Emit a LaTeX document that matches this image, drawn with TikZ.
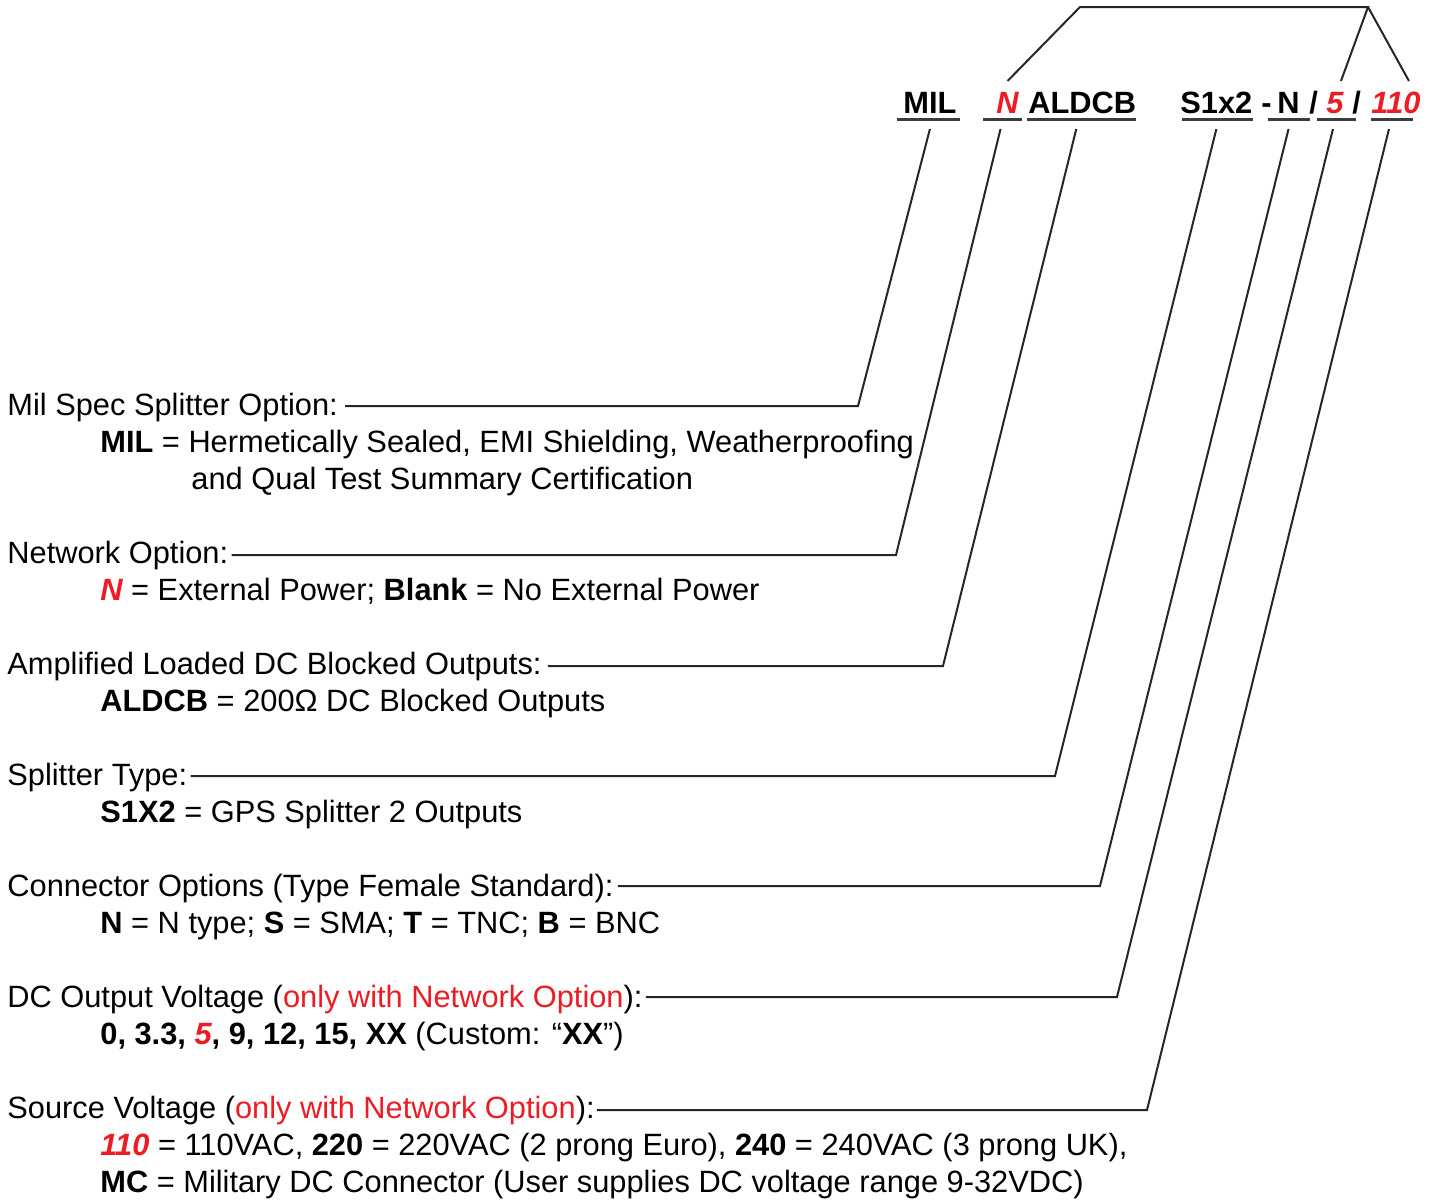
\documentclass[tikz,border=0pt]{standalone}
\usepackage{fontspec}
\setmainfont{Liberation Sans}
\definecolor{optred}{RGB}{237,28,36}
\definecolor{uline}{RGB}{60,60,60}
\begin{document}
\begin{tikzpicture}[x=0.5pt,y=-0.5pt,
  every node/.style={font=\fontsize{15.4}{18.5}\selectfont},
  code/.style={font=\fontsize{15.4}{18.5}\selectfont\bfseries, inner sep=0pt, anchor=base west},
  redc/.style={code, text=optred, font=\fontsize{15.4}{18.5}\selectfont\bfseries\itshape},
  lbl/.style={anchor=base west, inner sep=0pt},
  leader/.style={line width=1pt, black!85},
  ul/.style={line width=1.5pt, uline}]
\useasboundingbox (0,0) rectangle (1434,1200);

% code row
\node[code] (cMIL) at (903,113) {MIL};
\node[redc] (cN) at (996,113) {N};
\node[code] (cALDCB) at (1028,113) {ALDCB};
\node[code] (cS) at (1180,113) {S1x2};
\node[code] (cDash) at (1261,113) {-};
\node[code] (cN2) at (1277,113) {N};
\node[code] (cSl1) at (1309,113) {/};
\node[redc] (c5) at (1326,113) {5};
\node[code] (cSl2) at (1352,113) {/};
\node[redc] (c110) at (1371,113) {110};
\foreach \n/\a/\b in {cMIL/-3/1.5, cN/-6.5/1.5, cALDCB/-0.5/-0.5, cS/1/0, cN2/-4.5/5, c5/-4.5/6, c110/0/-4}
  \draw[ul] ([xshift=\a pt,yshift=-3pt]\n.base west) -- ([xshift=\b pt,yshift=-3pt]\n.base east);

% top bracket
\coordinate (t1) at (1080,7);
\coordinate (t2) at (1368,7);
\draw[leader] ([yshift=16pt]cN.base) -- (t1) -- (t2) -- ([xshift=3pt,yshift=16pt]c5.base);
\draw[leader] (t2) -- ([xshift=6.5pt,yshift=16pt]c110.base);

% labels
\node[lbl] (l1) at (7,415) {Mil Spec Splitter Option:};
\node[lbl] (l1a) at (100,452) {\textbf{MIL} = Hermetically Sealed, EMI Shielding, Weatherproofing};
\node[lbl] (l1b) at (191,489) {and Qual Test Summary Certification};

\node[lbl] (l2) at (7,563) {Network Option:};
\node[lbl] (l2a) at (100,600) {{\color{optred}\bfseries\itshape N} = External Power; \textbf{Blank} = No External Power};

\node[lbl] (l3) at (7,674) {Amplified Loaded DC Blocked Outputs:};
\node[lbl] (l3a) at (100,711) {\textbf{ALDCB} = 200Ω DC Blocked Outputs};

\node[lbl] (l4) at (7,785) {Splitter Type:};
\node[lbl] (l4a) at (100,822) {\textbf{S1X2} = GPS Splitter 2 Outputs};

\node[lbl] (l5) at (7,896) {Connector Options (Type Female Standard):};
\node[lbl] (l5a) at (100,933) {\textbf{N} = N type; \textbf{S} = SMA; \textbf{T} = TNC; \textbf{B} = BNC};

\node[lbl] (l6) at (7,1007) {DC Output Voltage ({\color{optred}only with Network Option}):};
\node[lbl] (l6a) at (100,1044) {\textbf{0, 3.3, {\color{optred}\itshape 5}, 9, 12, 15, XX} (Custom: “\textbf{XX}”)};

\node[lbl] (l7) at (7,1118) {Source Voltage ({\color{optred}only with Network Option}):};
\node[lbl] (l7a) at (100,1155) {{\color{optred}\bfseries\itshape 110} = 110VAC, \textbf{220} = 220VAC (2 prong Euro), \textbf{240} = 240VAC (3 prong UK),};
\node[lbl] (l7b) at (100,1192) {\textbf{MC} = Military DC Connector (User supplies DC voltage range 9-32VDC)};

% leader knees
\coordinate (k1) at (858,406);
\coordinate (k2) at (896,555);
\coordinate (k3) at (943,666);
\coordinate (k4) at (1055,776);
\coordinate (k5) at (1100,886);
\coordinate (k6) at (1117,997);
\coordinate (k7) at (1147,1110);

\draw[leader] ([yshift=-8pt]cMIL.base) -- (k1) -- ([xshift=3.5pt]l1.east |- k1);
\draw[leader] ([xshift=-3.5pt,yshift=-8pt]cN.base) -- (k2) -- ([xshift=1.5pt]l2.east |- k2);
\draw[leader] ([xshift=-3pt,yshift=-8pt]cALDCB.base) -- (k3) -- ([xshift=3pt]l3.east |- k3);
\draw[leader] ([yshift=-8pt]cS.base) -- (k4) -- ([xshift=1.5pt]l4.east |- k4);
\draw[leader] ([yshift=-8pt]cN2.base) -- (k5) -- ([xshift=2pt]l5.east |- k5);
\draw[leader] ([xshift=-1pt,yshift=-8pt]c5.base) -- (k6) -- ([xshift=1.5pt]l6.east |- k6);
\draw[leader] ([xshift=-3.5pt,yshift=-8pt]c110.base) -- (k7) -- ([xshift=1pt]l7.east |- k7);
\end{tikzpicture}
\end{document}
